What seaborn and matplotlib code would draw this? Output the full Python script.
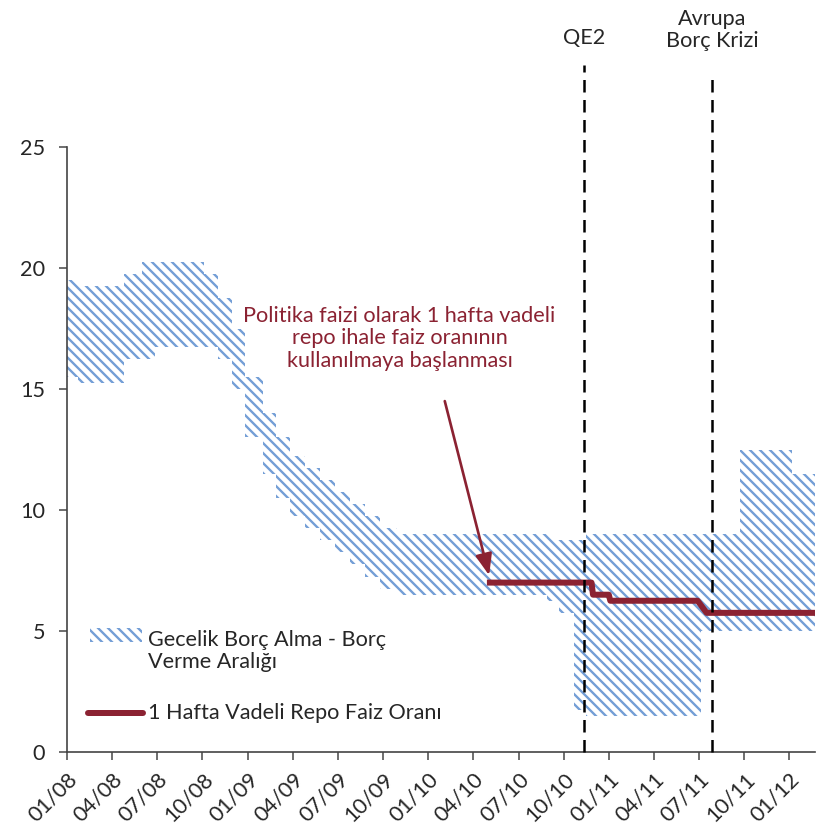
import numpy as np
import pandas as pd
import matplotlib
matplotlib.use('Agg')
import matplotlib.pyplot as plt
import matplotlib.transforms as mtransforms
from matplotlib.patches import Rectangle
from matplotlib.lines import Line2D
import seaborn as sns

# Overnight borrowing / lending corridor (step changes, months since 01/2008)
band_start = [0.0, 0.7, 3.8, 5.0, 5.85, 9.1, 10.0, 10.95, 11.8, 13.0, 13.9, 14.8,
              15.8, 16.8, 17.8, 18.8, 19.8, 20.8, 21.9, 31.9, 32.25, 32.7, 33.7,
              34.5, 42.1, 44.7, 48.2]
band_low = [15.5, 15.25, 16.25, 16.25, 16.75, 16.75, 16.25, 15.0, 13.0, 11.5, 10.5, 9.75,
            9.25, 8.75, 8.25, 7.75, 7.25, 6.75, 6.5, 6.25, 6.25, 5.75, 1.75,
            1.5, 5.0, 5.0, 5.0]
band_high = [19.5, 19.25, 19.75, 20.25, 20.25, 19.75, 18.75, 17.5, 15.5, 14.0, 13.0, 12.25,
             11.75, 11.25, 10.75, 10.25, 9.75, 9.25, 9.0, 9.0, 8.75, 8.75, 8.75,
             9.0, 9.0, 12.5, 11.5]
band_end = 49.7

# One-week repo rate
repo_m = [27.9, 34.85, 34.95, 36.0, 36.1, 41.9, 42.5, 49.7]
repo_v = [7.0, 7.0, 6.5, 6.5, 6.25, 6.25, 5.75, 5.75]

# Events
event_m = [34.37, 42.87]
event_labels = ['QE2', 'Avrupa\nBorç Krizi']

tick_m = list(range(0, 49, 3))
tick_labels = ['01/08', '04/08', '07/08', '10/08', '01/09', '04/09', '07/09', '10/09',
               '01/10', '04/10', '07/10', '10/10', '01/11', '04/11', '07/11', '10/11', '01/12']

red = '#8B2232'
hatch_col = '#739ED6'
hatch_pat = '\\\\\\\\'

sns.set_theme(style='white')
plt.rcParams['font.family'] = ['Lato', 'DejaVu Sans']
plt.rcParams['hatch.linewidth'] = 1.4

DPI = 120
fig = plt.figure(figsize=(827 / DPI, 830 / DPI), dpi=DPI)
ax = fig.add_axes([67 / 827, 78 / 830, 748 / 827, 605 / 830])

x_band = band_start + [band_end]
lo = band_low + [band_low[-1]]
hi = band_high + [band_high[-1]]
ax.fill_between(x_band, lo, hi, step='post', facecolor='white',
                edgecolor=hatch_col, hatch=hatch_pat, linewidth=0)

df_repo = pd.DataFrame({'m': repo_m, 'v': repo_v})
sns.lineplot(data=df_repo, x='m', y='v', sort=False, color=red, lw=3.6, ax=ax,
             solid_capstyle='butt')

# event lines reaching above the plot
trans = mtransforms.blended_transform_factory(ax.transData, ax.transAxes)
tops = [1.135, 1.119]
for m, top in zip(event_m, tops):
    ax.plot([m, m], [0, top], transform=trans, color='black', lw=1.5,
            ls=(0, (5, 3)), clip_on=False, zorder=5)
ax.text(event_m[0], 1.180, event_labels[0], transform=trans, ha='center',
        va='center', fontsize=13)
ax.text(event_m[1], 1.193, event_labels[1], transform=trans, ha='center',
        va='center', fontsize=13, linespacing=1.15)

# annotation
ax.text(22.1, 17.1, 'Politika faizi olarak 1 hafta vadeli\nrepo ihale faiz oranının\nkullanılmaya başlanması',
        ha='center', va='center', fontsize=13, color=red, linespacing=1.15)
ax.annotate('', xy=(28.05, 7.3), xytext=(25.1, 14.5),
            arrowprops=dict(arrowstyle='-|>,head_length=0.9,head_width=0.35',
                            color=red, lw=1.6, shrinkA=0, shrinkB=0))

# legend drawn by hand
ax.add_patch(Rectangle((0.031, 0.182), 0.069, 0.023, transform=ax.transAxes,
                       facecolor='white', edgecolor=hatch_col, hatch=hatch_pat,
                       linewidth=0))
ax.text(0.108, 0.167, 'Gecelik Borç Alma - Borç\nVerme Aralığı', transform=ax.transAxes,
        ha='left', va='center', fontsize=13, linespacing=1.15)
ax.add_line(Line2D([0.028, 0.1016], [0.0645, 0.0645], transform=ax.transAxes,
                   color=red, lw=3.6, solid_capstyle='round'))
ax.text(0.108, 0.0645, '1 Hafta Vadeli Repo Faiz Oranı', transform=ax.transAxes,
        ha='left', va='center', fontsize=13)

ax.set_xlim(0, band_end)
ax.set_ylim(0, 25)
ax.set_yticks([0, 5, 10, 15, 20, 25])
ax.set_xticks(tick_m)
ax.set_xticklabels(tick_labels, rotation=45, ha='right', rotation_mode='anchor')
ax.set_xlabel('')
ax.set_ylabel('')
ax.tick_params(axis='both', which='major', labelsize=13, length=5, width=1,
               color='#555555', direction='out')
ax.tick_params(axis='y', pad=8)
ax.tick_params(axis='x', pad=5)
ax.tick_params(left=True, bottom=True)
for s in ['top', 'right']:
    ax.spines[s].set_visible(False)
for s in ['left', 'bottom']:
    ax.spines[s].set_color('#444444')
    ax.spines[s].set_linewidth(1)

fig.savefig('out.png', dpi=DPI)
